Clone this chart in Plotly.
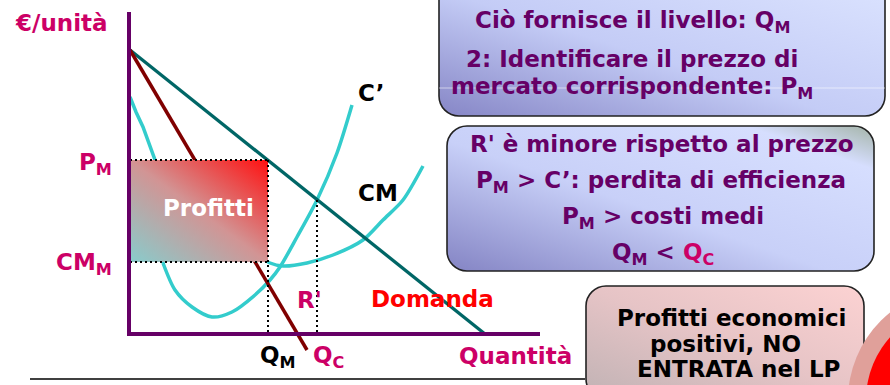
import base64
import plotly.graph_objects as go

# ---------------- data (quantity, €/unit) ----------------
demand_q = [0, 355]
demand_p = [284, 0]

mr_q = [0, 177]
mr_p = [284, -16]

mc_q = [0, 6, 13, 19, 25, 29, 33, 45, 62, 82, 102, 125, 140, 150, 167, 187, 207, 222]
mc_p = [237, 222, 207, 191, 174, 124, 71, 44, 27, 17, 22, 39, 54, 67, 97, 134, 181, 229]

cm_q = [120, 140, 153, 177, 203, 233, 253, 273, 293]
cm_p = [84, 71, 68, 71, 79, 94, 114, 134, 168]

Q_M, Q_C = 138, 187
P_M, CM_M, P_C = 174, 72, 134

axis_q_max, axis_p_max = 410, 322

# ---------------- helpers: picture pixels -> data units ----------------
OX, OY = 130, 334


def dx(px):
    return px - OX


def dy(py):
    return OY - py


FONT = "DejaVu Sans"
MAG = "#cc0066"
PUR = "#660066"
CYAN = "#33cccc"

fig = go.Figure()

# curves (the marginal-cost curve is drawn in two pieces: a straight part that
# runs under the profit box and a smooth part below it)
split = 6
fig.add_trace(go.Scatter(x=mc_q[:split + 1], y=mc_p[:split + 1], mode="lines",
                         line=dict(color=CYAN, width=3.5), hoverinfo="skip"))
fig.add_trace(go.Scatter(x=mc_q[split:], y=mc_p[split:], mode="lines",
                         line=dict(color=CYAN, width=3.5, shape="spline", smoothing=0.8), hoverinfo="skip"))
fig.add_trace(go.Scatter(x=cm_q, y=cm_p, mode="lines",
                         line=dict(color=CYAN, width=3.5, shape="spline", smoothing=0.8), hoverinfo="skip"))
fig.add_trace(go.Scatter(x=demand_q, y=demand_p, mode="lines", line=dict(color="#006666", width=3.3), hoverinfo="skip"))
fig.add_trace(go.Scatter(x=mr_q, y=mr_p, mode="lines", line=dict(color="#800000", width=3.5), hoverinfo="skip"))

# dotted guide line at Q_C
dot = dict(color="black", width=2, dash="2px,3px")
fig.add_trace(go.Scatter(x=[Q_C, Q_C], y=[P_C, 0], mode="lines", line=dot, hoverinfo="skip"))


def svg_uri(w, h, stops, rx=0, stroke=None, extra=""):
    st = "".join(f"<stop offset='{o}' stop-color='{c}'/>" for o, c in stops)
    strk = f"stroke='{stroke}' stroke-width='1.6'" if stroke else ""
    inset = 1 if stroke else 0
    svg = (f"<svg xmlns='http://www.w3.org/2000/svg' width='{w}' height='{h}' viewBox='0 0 {w} {h}' preserveAspectRatio='none'>"
           f"<defs><linearGradient id='g' x1='0' y1='1' x2='1' y2='0'>{st}</linearGradient></defs>"
           f"<rect x='{inset}' y='{inset}' width='{w-2*inset}' height='{h-2*inset}' rx='{rx}' fill='url(#g)' {strk}/>"
           f"{extra}</svg>")
    return "data:image/svg+xml;base64," + base64.b64encode(svg.encode("utf-8")).decode()


images = []
# Profitti rectangle (gradient)
rw, rh = Q_M, P_M - CM_M
images.append(dict(source=svg_uri(rw, rh, [(0, "#88cccc"), (0.5, "#d29494"), (1, "#ff1010")]),
                   xref="x", yref="y", x=0, y=P_M, sizex=rw, sizey=rh,
                   sizing="stretch", xanchor="left", yanchor="top", layer="above"))


def add_box(x0, y0, x1, y1, stops, extra=""):
    w, h = x1 - x0, y1 - y0
    images.append(dict(source=svg_uri(w, h, stops, rx=20, stroke="#222222", extra=extra),
                       xref="x", yref="y", x=dx(x0), y=dy(y0), sizex=w, sizey=h,
                       sizing="stretch", xanchor="left", yanchor="top", layer="above"))


add_box(438, -25, 886, 117, [(0, "#8686c6"), (0.45, "#c4ccf6"), (1, "#dce4ff")],
        extra="<line x1='1' y1='113' x2='447' y2='113' stroke='white' stroke-opacity='0.55' stroke-width='1'/>")
add_box(446, 125, 875, 272, [(0, "#8484c4"), (0.45, "#c8d0f8"), (0.85, "#d6defe"), (1, "#a4b4a8")])
add_box(585, 285, 865, 400, [(0, "#c0b2b4"), (0.5, "#e6c4c6"), (1, "#fcd2d2")])

shapes = []
# red circle at bottom right
shapes.append(dict(type="circle", xref="x", yref="y", x0=dx(960 - 112), x1=dx(960 + 112), y0=dy(400 + 112), y1=dy(400 - 112),
                   fillcolor="#e0a09a", line=dict(width=0), layer="above"))
shapes.append(dict(type="circle", xref="x", yref="y", x0=dx(960 - 94), x1=dx(960 + 94), y0=dy(400 + 94), y1=dy(400 - 94),
                   fillcolor="#ff0000", line=dict(width=0), layer="above"))
# dotted outline of the profit rectangle
for (xa, ya, xb, yb) in [(0, P_M, Q_M, P_M), (0, CM_M, Q_M, CM_M), (Q_M, P_M, Q_M, 0)]:
    shapes.append(dict(type="line", xref="x", yref="y", x0=xa, y0=ya, x1=xb, y1=yb, line=dot, layer="above"))
# axes
shapes.append(dict(type="line", xref="x", yref="y", x0=-1, y0=-2, x1=-1, y1=axis_p_max, line=dict(color=PUR, width=4), layer="above"))
shapes.append(dict(type="line", xref="x", yref="y", x0=-3, y0=0, x1=axis_q_max, y1=0, line=dict(color=PUR, width=4), layer="above"))
# bottom rule
shapes.append(dict(type="line", xref="x", yref="y", x0=dx(30), y0=dy(379), x1=dx(585), y1=dy(379), line=dict(color="black", width=1.5), layer="above"))

ann = []


def label(text, px, py, color, size=23, xanchor="center"):
    ann.append(dict(text=text, x=dx(px), y=dy(py), xref="x", yref="y", showarrow=False,
                    xanchor=xanchor, yanchor="middle",
                    font=dict(family=FONT, size=size, color=color, weight="bold")))


label("€/unità", 61, 23, MAG)
label("P<sub>M</sub>", 114, 164, MAG, xanchor="right")
label("CM<sub>M</sub>", 114, 264, MAG, xanchor="right")
label("C’", 356, 93, "black", xanchor="left")
label("CM", 356, 193, "black", xanchor="left")
label("Profitti", 208, 208, "white")
label("R'", 295, 300, MAG, xanchor="left")
label("Domanda", 432, 299, "#ff0000")
label("Q<sub>M</sub>", 258, 357, "black", xanchor="left")
label("Q<sub>C</sub>", 311, 357, MAG, xanchor="left")
label("Quantità", 515, 356, MAG)

label("Ciò fornisce il livello: Q<sub>M</sub>", 632, 22, PUR)
label("2: Identificare il prezzo di", 632, 59, PUR)
label("mercato corrispondente: P<sub>M</sub>", 632, 88, PUR)

label("R' è minore rispetto al prezzo", 662, 144, PUR)
label("P<sub>M</sub> > C’: perdita di efficienza", 661, 182, PUR)
label("P<sub>M</sub> > costi medi", 663, 218, PUR)
label(f"Q<sub>M</sub> < <span style='color:{MAG}'>Q<sub>C</sub></span>", 663, 254, PUR)

label("Profitti economici", 732, 318, "black")
label("positivi, NO", 725, 344, "black")
label("ENTRATA nel LP", 738, 369, "black")

fig.update_layout(
    width=890, height=385, margin=dict(l=0, r=0, t=0, b=0),
    paper_bgcolor="white", plot_bgcolor="white", showlegend=False,
    xaxis=dict(range=[dx(0), dx(890)], visible=False, fixedrange=True),
    yaxis=dict(range=[dy(385), dy(0)], visible=False, fixedrange=True),
    images=images, shapes=shapes, annotations=ann,
)

fig.write_html("out.html", config={"displayModeBar": False},
               post_script="document.body.style.margin='0';document.body.style.overflow='hidden';")
